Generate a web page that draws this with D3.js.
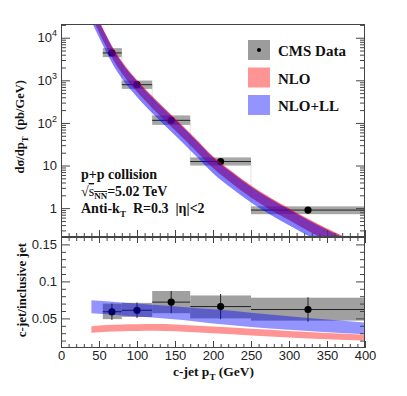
<!DOCTYPE html>
<html>
<head>
<meta charset="utf-8">
<script src="https://cdn.jsdelivr.net/npm/d3@7"></script>
<style>
  body { margin: 0; background: #fff; }
  .tick text { font-family: "Liberation Sans", Arial, sans-serif; font-size: 13px; fill: #222; }
  .tick line { stroke: #444; }
  .ttl { font-family: "Liberation Serif", "Times New Roman", serif; font-weight: bold; font-size: 15px; fill: #111; white-space: pre; }
</style>
</head>
<body>
<svg width="407" height="396"></svg>
<script>
// bins and data
const binLo = [55, 80, 120, 170, 250];
const binHi = [80, 120, 170, 250, 400];
const ptCenter = [67, 100, 145, 210, 325];
const xsec = [4400, 790, 115, 12.4, 0.9];
const xsecSysLo = [3500, 630, 90, 10.0, 0.72];
const xsecSysHi = [5700, 990, 150, 15.5, 1.1];

const ratio = [0.059, 0.061, 0.072, 0.066, 0.062];
const ratioStat = [0.011, 0.0105, 0.015, 0.017, 0.0165];
const ratioSysLo = [0.049, 0.052, 0.057, 0.050, 0.047];
const ratioSysHi = [0.070, 0.071, 0.087, 0.081, 0.078];

// theory curves, cross section
const thPt = [40, 50, 60, 70, 80, 100, 120, 150, 175, 200, 225, 250, 275, 300, 325, 350, 375, 400];
const nloHi = [61700, 25700, 11200, 5250, 2820, 1023, 427, 129, 46.8, 16.6, 7.24, 3.39, 1.78, 1.00, 0.562, 0.331, 0.204, 0.129];
const nloLo = [32400, 13500, 5890, 2750, 1480, 537, 224, 67.6, 24.5, 8.71, 3.80, 1.78, 0.933, 0.525, 0.295, 0.174, 0.107, 0.0676];
const llHi = [57500, 24000, 10500, 4900, 2630, 955, 398, 120, 43.7, 15.5, 6.76, 3.16, 1.66, 0.933, 0.525, 0.309, 0.191, 0.120];
const llLo = [24500, 10200, 4470, 2090, 1120, 407, 170, 51.3, 18.6, 6.61, 2.88, 1.35, 0.708, 0.398, 0.224, 0.132, 0.0813, 0.0513];

// theory curves, ratio
const rNloPt = [40, 60, 80, 100, 125, 150, 200, 250, 300, 350, 400];
const rNloHi = [0.0395, 0.0410, 0.0418, 0.0422, 0.0423, 0.0418, 0.0390, 0.0360, 0.0330, 0.0302, 0.0280];
const rNloLo = [0.0305, 0.0318, 0.0326, 0.0330, 0.0332, 0.0326, 0.0298, 0.0268, 0.0242, 0.0218, 0.0200];
const rLlPt = [40, 80, 120, 160, 200, 250, 300, 350, 400];
const rLlHi = [0.0745, 0.0715, 0.0685, 0.0655, 0.0622, 0.0578, 0.0530, 0.0485, 0.0445];
const rLlLo = [0.0570, 0.0540, 0.0512, 0.0478, 0.0432, 0.0385, 0.0345, 0.0312, 0.0285];

const xTicks = [0, 50, 100, 150, 200, 250, 300, 350, 400];
const yTopTicks = [1, 10, 100, 1000, 10000];
const yBotTicks = [0.05, 0.1, 0.15];

const L = 61, R = 365, T = 24, M = 237, B = 348;

const svg = d3.select("svg");
svg.append("rect").attr("width", 407).attr("height", 396).attr("fill", "#fff");

const x = d3.scaleLinear().domain([0, 400]).range([L, R]);
const yTop = d3.scaleLog().domain([0.21, 2.1e4]).range([M, T]);
const yBot = d3.scaleLinear().domain([0.01, 0.16]).range([B, M]);

const defs = svg.append("defs");
defs.append("clipPath").attr("id", "cTop").append("rect").attr("x", L).attr("y", T).attr("width", R - L).attr("height", M - T);
defs.append("clipPath").attr("id", "cBot").append("rect").attr("x", L).attr("y", M).attr("width", R - L).attr("height", B - M);

// ---- top panel
const gTop = svg.append("g").attr("clip-path", "url(#cTop)");
const idx = d3.range(binLo.length);

// faint histogram steps between bins
gTop.selectAll(".step").data(idx.slice(0, -1)).enter().append("line")
  .attr("x1", i => x(binHi[i])).attr("x2", i => x(binHi[i]))
  .attr("y1", i => yTop(xsec[i])).attr("y2", i => yTop(xsec[i + 1]))
  .attr("stroke", "#e2e2e2");

gTop.selectAll(".sys").data(idx).enter().append("rect")
  .attr("x", i => x(binLo[i])).attr("width", i => x(binHi[i]) - x(binLo[i]))
  .attr("y", i => yTop(xsecSysHi[i])).attr("height", i => yTop(xsecSysLo[i]) - yTop(xsecSysHi[i]))
  .attr("fill", "#9c9c9c").attr("fill-opacity", 0.9);

gTop.selectAll(".hbar").data(idx).enter().append("line")
  .attr("x1", i => x(binLo[i])).attr("x2", i => x(binHi[i]))
  .attr("y1", i => yTop(xsec[i])).attr("y2", i => yTop(xsec[i]))
  .attr("stroke", "#222");

gTop.selectAll(".pt").data(idx).enter().append("circle")
  .attr("cx", i => x(ptCenter[i])).attr("cy", i => yTop(xsec[i])).attr("r", 3.6).attr("fill", "#000");

const areaTop = (lo, hi) => d3.area()
  .x((d, i) => x(thPt[i])).y0((d, i) => yTop(lo[i])).y1((d, i) => yTop(hi[i]))
  .curve(d3.curveMonotoneX)(thPt);

gTop.append("path").attr("d", areaTop(nloLo, nloHi)).attr("fill", "rgb(255,0,0)").attr("fill-opacity", 0.6);
gTop.append("path").attr("d", areaTop(llLo, llHi)).attr("fill", "rgb(0,0,255)").attr("fill-opacity", 0.5);

// ---- bottom panel
const gBot = svg.append("g").attr("clip-path", "url(#cBot)");

gBot.selectAll(".sys").data(idx).enter().append("rect")
  .attr("x", i => x(binLo[i])).attr("width", i => x(binHi[i]) - x(binLo[i]))
  .attr("y", i => yBot(ratioSysHi[i])).attr("height", i => yBot(ratioSysLo[i]) - yBot(ratioSysHi[i]))
  .attr("fill", "#a0a0a0");

gBot.selectAll(".hbar").data(idx).enter().append("line")
  .attr("x1", i => x(binLo[i])).attr("x2", i => x(binHi[i]))
  .attr("y1", i => yBot(ratio[i])).attr("y2", i => yBot(ratio[i]))
  .attr("stroke", "#222");
gBot.selectAll(".vbar").data(idx).enter().append("line")
  .attr("x1", i => x(ptCenter[i])).attr("x2", i => x(ptCenter[i]))
  .attr("y1", i => yBot(ratio[i] - ratioStat[i])).attr("y2", i => yBot(ratio[i] + ratioStat[i]))
  .attr("stroke", "#222");
gBot.selectAll(".pt").data(idx).enter().append("circle")
  .attr("cx", i => x(ptCenter[i])).attr("cy", i => yBot(ratio[i])).attr("r", 3.6).attr("fill", "#000");

const areaBot = (px, lo, hi) => d3.area()
  .x((d, i) => x(px[i])).y0((d, i) => yBot(lo[i])).y1((d, i) => yBot(hi[i]))
  .curve(d3.curveMonotoneX)(px);

gBot.append("path").attr("d", areaBot(rNloPt, rNloLo, rNloHi)).attr("fill", "rgb(255,0,0)").attr("fill-opacity", 0.42);
gBot.append("path").attr("d", areaBot(rLlPt, rLlLo, rLlHi)).attr("fill", "rgb(0,0,255)").attr("fill-opacity", 0.42);

// ---- axes
const minorLog = [];
[0.1, 1, 10, 100, 1000, 10000].forEach(p => d3.range(2, 10).forEach(k => minorLog.push(p * k)));
const minorTop = minorLog.filter(v => v > 0.21 && v < 2.1e4);
const xMinor = d3.range(0, 401, 10).filter(v => v % 50 !== 0);
const yBotMinor = d3.range(1, 16).map(v => v / 100).filter(v => v > 0.0105 && Math.round(v * 100) % 5 !== 0);

function supLabel(sel) {
  sel.selectAll(".tick text").each(function (d) {
    const t = d3.select(this);
    const e = Math.round(Math.log10(d));
    t.text(null);
    if (e <= 1) { t.text(d3.format("d")(d)); return; }
    t.append("tspan").text("10");
    t.append("tspan").attr("dy", -6).attr("font-size", "9px").text(e);
  });
}

const clean = g => g.select(".domain").remove();

svg.append("g").attr("transform", `translate(${L},0)`)
  .call(d3.axisLeft(yTop).tickValues(yTopTicks).tickSize(-9).tickPadding(4)).call(clean).call(supLabel);
svg.append("g").attr("transform", `translate(${L},0)`)
  .call(d3.axisLeft(yTop).tickValues(minorTop).tickSize(-5).tickFormat("")).call(clean);
svg.append("g").attr("transform", `translate(${R},0)`)
  .call(d3.axisRight(yTop).tickValues(yTopTicks).tickSize(-9).tickFormat("")).call(clean);
svg.append("g").attr("transform", `translate(${R},0)`)
  .call(d3.axisRight(yTop).tickValues(minorTop).tickSize(-5).tickFormat("")).call(clean);

svg.append("g").attr("transform", `translate(${L},0)`)
  .call(d3.axisLeft(yBot).tickValues(yBotTicks).tickSize(-9).tickPadding(4).tickFormat(d3.format("~g"))).call(clean);
svg.append("g").attr("transform", `translate(${L},0)`)
  .call(d3.axisLeft(yBot).tickValues(yBotMinor).tickSize(-5).tickFormat("")).call(clean);
svg.append("g").attr("transform", `translate(${R},0)`)
  .call(d3.axisRight(yBot).tickValues(yBotTicks).tickSize(-9).tickFormat("")).call(clean);
svg.append("g").attr("transform", `translate(${R},0)`)
  .call(d3.axisRight(yBot).tickValues(yBotMinor).tickSize(-5).tickFormat("")).call(clean);

// shared middle axis, ticks into both panels
svg.append("g").attr("transform", `translate(0,${M})`)
  .call(d3.axisTop(x).tickValues(xTicks).tickSize(7).tickFormat("")).call(clean);
svg.append("g").attr("transform", `translate(0,${M})`)
  .call(d3.axisTop(x).tickValues(xMinor).tickSize(4).tickFormat("")).call(clean);
svg.append("g").attr("transform", `translate(0,${M})`)
  .call(d3.axisBottom(x).tickValues(xTicks).tickSize(6).tickFormat("")).call(clean);
svg.append("g").attr("transform", `translate(0,${M})`)
  .call(d3.axisBottom(x).tickValues(xMinor).tickSize(4).tickFormat("")).call(clean);

svg.append("g").attr("transform", `translate(0,${B})`)
  .call(d3.axisBottom(x).tickValues(xTicks).tickSize(-7).tickPadding(3)).call(clean);
svg.append("g").attr("transform", `translate(0,${B})`)
  .call(d3.axisBottom(x).tickValues(xMinor).tickSize(-4).tickFormat("")).call(clean);

// frames
[[T, M], [M, B]].forEach(([a, b]) => {
  svg.append("rect").attr("x", L + 0.5).attr("y", a + 0.5).attr("width", R - L - 1).attr("height", b - a - 1)
    .attr("fill", "none").attr("stroke", "#444");
});

// ---- titles
const yt = svg.append("text").attr("class", "ttl").attr("text-anchor", "end").attr("font-size", "12.5px")
  .style("font-size", "12.5px").attr("transform", "translate(24,80) rotate(-90)");
yt.append("tspan").text("dσ/dp");
yt.append("tspan").attr("dy", 4).style("font-size", "9px").text("T");
yt.append("tspan").attr("dy", -4).text("  (pb/GeV)");

svg.append("text").attr("class", "ttl").style("font-size", "13px").attr("text-anchor", "end")
  .attr("transform", "translate(26,243) rotate(-90)").text("c-jet/inclusive jet");

const xt = svg.append("text").attr("class", "ttl").style("font-size", "13.5px").attr("text-anchor", "end")
  .attr("x", 254).attr("y", 376);
xt.append("tspan").text("c-jet p");
xt.append("tspan").attr("dy", 4).style("font-size", "9px").text("T");
xt.append("tspan").attr("dy", -4).text(" (GeV)");

// annotations
const ann = svg.append("g").style("font-size", "14px");
ann.append("text").attr("class", "ttl").style("font-size", "14px").attr("x", 81).attr("y", 179).text("p+p collision");
const sq = ann.append("text").attr("class", "ttl").style("font-size", "14px").attr("x", 81).attr("y", 196);
sq.append("tspan").attr("font-weight", "normal").text("√");
sq.append("tspan").attr("text-decoration", "overline").attr("font-weight", "normal").text("s");
sq.append("tspan").attr("dy", 3).style("font-size", "9px").attr("text-decoration", "overline").text("NN");
sq.append("tspan").attr("dy", -3).text("=5.02 TeV");
const ak = ann.append("text").attr("class", "ttl").style("font-size", "14px").attr("x", 81).attr("y", 213);
ak.append("tspan").text("Anti-k");
ak.append("tspan").attr("dy", 4).style("font-size", "9px").text("T");
ak.append("tspan").attr("dy", -4).text("  R=0.3  |η|<2");

// ---- legend
const legItems = [
  {label: "CMS Data", fill: "#9c9c9c", op: 1},
  {label: "NLO", fill: "rgb(255,0,0)", op: 0.42},
  {label: "NLO+LL", fill: "rgb(0,0,255)", op: 0.42}
];
const leg = svg.append("g");
legItems.forEach((d, i) => {
  const y0 = 40 + i * 27.5;
  leg.append("rect").attr("x", 248).attr("y", y0).attr("width", 22).attr("height", 20)
    .attr("fill", d.fill).attr("fill-opacity", d.op);
  leg.append("text").attr("class", "ttl").attr("x", 278).attr("y", y0 + 16).text(d.label);
});
leg.append("circle").attr("cx", 259).attr("cy", 50).attr("r", 2).attr("fill", "#000");
</script>
</body>
</html>
